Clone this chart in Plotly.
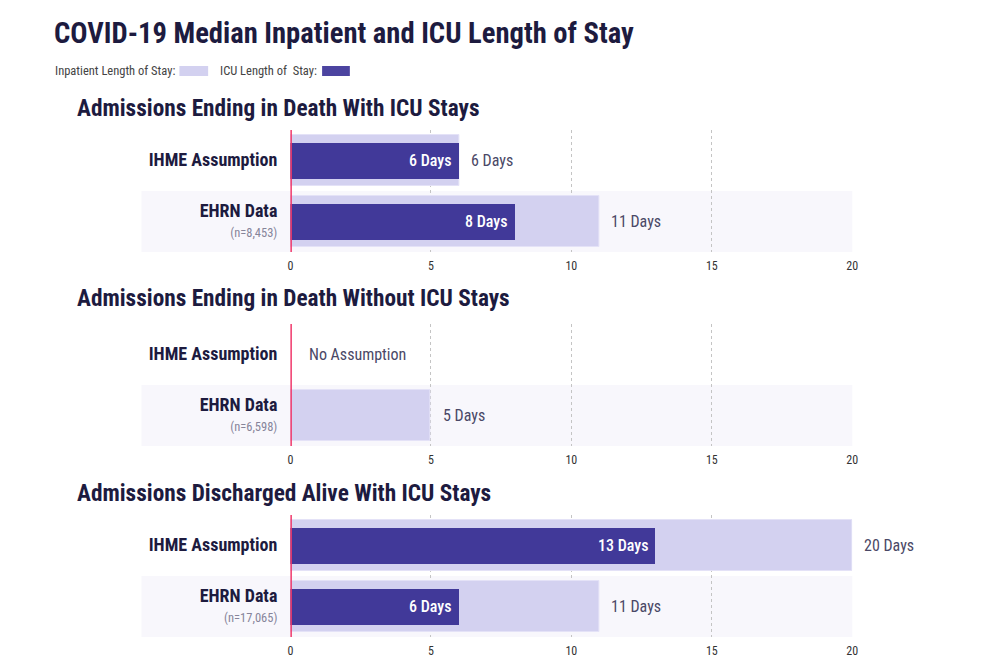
import plotly.graph_objects as go

FONT = "Roboto Condensed, Liberation Sans Narrow, DejaVu Sans Condensed, sans-serif"

# ---- data ----
panel_titles = [
    "Admissions Ending in Death With ICU Stays",
    "Admissions Ending in Death Without ICU Stays",
    "Admissions Discharged Alive With ICU Stays",
]
row_labels = ["EHRN Data", "IHME Assumption"]  # bottom, top
ehrn_n = ["8,453", "6,598", "17,065"]
inpatient = [[11, 6], [5, None], [11, 20]]   # [EHRN, IHME] per panel
icu = [[8, 6], [None, None], [6, 13]]
x_ticks = [0, 5, 10, 15, 20]

LIGHT = "#d3d1f0"
DARK = "#413999"
RED = "#f0386b"
BAND = "#f8f7fc"
TXT = "#1d1b3f"
LBL = "#4a4866"

# pixel layout (paper coordinates)
H = 667.0
panels_px = [(130, 252), (324, 446), (515, 637)]
sub_y_px = [108, 298, 493]

fig = go.Figure()
annotations = []
shapes = []

for i in range(3):
    ax = "" if i == 0 else str(i + 1)
    xref, yref = "x" + ax, "y" + ax
    top, bot = panels_px[i]
    fig.update_layout(**{
        "xaxis" + ax: dict(
            domain=[0.29, 0.857], range=[0, 20], tickvals=x_ticks,
            showgrid=True, gridcolor="#c4c4c4", griddash="dot", gridwidth=1,
            zeroline=False, showline=False, ticks="", layer="above traces",
            tickfont=dict(family=FONT, size=12, color="#333"),
            anchor=yref, fixedrange=True, ticklabelstandoff=5,
        ),
        "yaxis" + ax: dict(
            domain=[1 - bot / H, 1 - top / H], range=[-0.5, 1.5],
            tickvals=[0, 1],
            ticktext=[
                "<span style='font-size:18px'><b>%s</b></span><br><span style='font-size:12.5px;color:#86849a'>(n=%s)</span>" % (row_labels[0], ehrn_n[i]),
                "<span style='font-size:18px'><b>%s</b></span>" % row_labels[1],
            ],
            tickfont=dict(family=FONT, size=15.5, color=TXT),
            showgrid=False, zeroline=False, showline=False, ticks="",
            anchor=xref, fixedrange=True, ticklabelstandoff=12,
        ),
    })

    # EHRN row band
    shapes.append(dict(type="rect", xref=xref + " domain", yref=yref,
                       x0=-0.265, x1=1.0, y0=-0.5, y1=0.5,
                       fillcolor=BAND, line=dict(width=0), layer="below"))
    # zero line (red) drawn on top
    shapes.append(dict(type="line", xref=xref, yref=yref + " domain",
                       x0=0, x1=0, y0=0, y1=1,
                       line=dict(color=RED, width=3), layer="above"))

    ys = [0, 1]
    inp_y = [y for y, v in zip(ys, inpatient[i]) if v is not None]
    inp_x = [v for v in inpatient[i] if v is not None]
    if inp_x:
        fig.add_trace(go.Bar(
            x=inp_x, y=inp_y, orientation="h", width=0.82,
            marker=dict(color=LIGHT, line=dict(color="#e4e2f7", width=1)),
            xaxis=xref, yaxis=yref, showlegend=False, hoverinfo="skip",
        ))
        for y, v in zip(inp_y, inp_x):
            annotations.append(dict(
                x=v, y=y, xref=xref, yref=yref, text="%d Days" % v,
                showarrow=False, xanchor="left", xshift=10,
                font=dict(family=FONT, size=16, color=LBL),
            ))
    icu_y = [y for y, v in zip(ys, icu[i]) if v is not None]
    icu_x = [v for v in icu[i] if v is not None]
    if icu_x:
        fig.add_trace(go.Bar(
            x=icu_x, y=icu_y, orientation="h", width=0.59,
            marker=dict(color=DARK, line=dict(width=0)),
            xaxis=xref, yaxis=yref, showlegend=False, hoverinfo="skip",
        ))
        for y, v in zip(icu_y, icu_x):
            annotations.append(dict(
                x=v, y=y, xref=xref, yref=yref, text="%d Days" % v,
                showarrow=False, xanchor="right", xshift=-6,
                font=dict(family=FONT, size=16, color="white", weight=500),
            ))
    if inpatient[i][1] is None and icu[i][1] is None:
        annotations.append(dict(
            x=0, y=1, xref=xref, yref=yref, text="No Assumption",
            showarrow=False, xanchor="left", xshift=17,
            font=dict(family=FONT, size=16, color=LBL),
        ))

    annotations.append(dict(
        x=0.073, y=1 - sub_y_px[i] / H, xref="paper", yref="paper",
        text="<b>%s</b>" % panel_titles[i], showarrow=False,
        xanchor="left", yanchor="middle",
        font=dict(family=FONT, size=23.3, color=TXT),
    ))

# title and legend
annotations.append(dict(
    x=0.049, y=1 - 33 / H, xref="paper", yref="paper",
    text="<b>COVID-19 Median Inpatient and ICU Length of Stay</b>",
    showarrow=False, xanchor="left", yanchor="middle",
    font=dict(family=FONT, size=28.6, color=TXT),
))
annotations.append(dict(
    x=0.050, y=1 - 71 / H, xref="paper", yref="paper",
    text="Inpatient Length of Stay:", showarrow=False,
    xanchor="left", yanchor="middle",
    font=dict(family=FONT, size=12.5, color="#444"),
))
annotations.append(dict(
    x=0.217, y=1 - 71 / H, xref="paper", yref="paper",
    text="ICU Length of &nbsp;Stay:", showarrow=False,
    xanchor="left", yanchor="middle",
    font=dict(family=FONT, size=12.5, color="#444"),
))
shapes.append(dict(type="rect", xref="paper", yref="paper",
                   x0=0.178, x1=0.207, y0=1 - 76 / H, y1=1 - 66 / H,
                   fillcolor=LIGHT, line=dict(width=0)))
shapes.append(dict(type="rect", xref="paper", yref="paper",
                   x0=0.322, x1=0.350, y0=1 - 76 / H, y1=1 - 66 / H,
                   fillcolor="#4c44a0", line=dict(width=0)))

fig.update_layout(
    width=1000, height=667, barmode="overlay", bargap=0,
    margin=dict(l=0, r=0, t=0, b=0),
    paper_bgcolor="white", plot_bgcolor="rgba(0,0,0,0)",
    annotations=annotations, shapes=shapes,
    font=dict(family=FONT),
)

fig.write_html("out.html")
